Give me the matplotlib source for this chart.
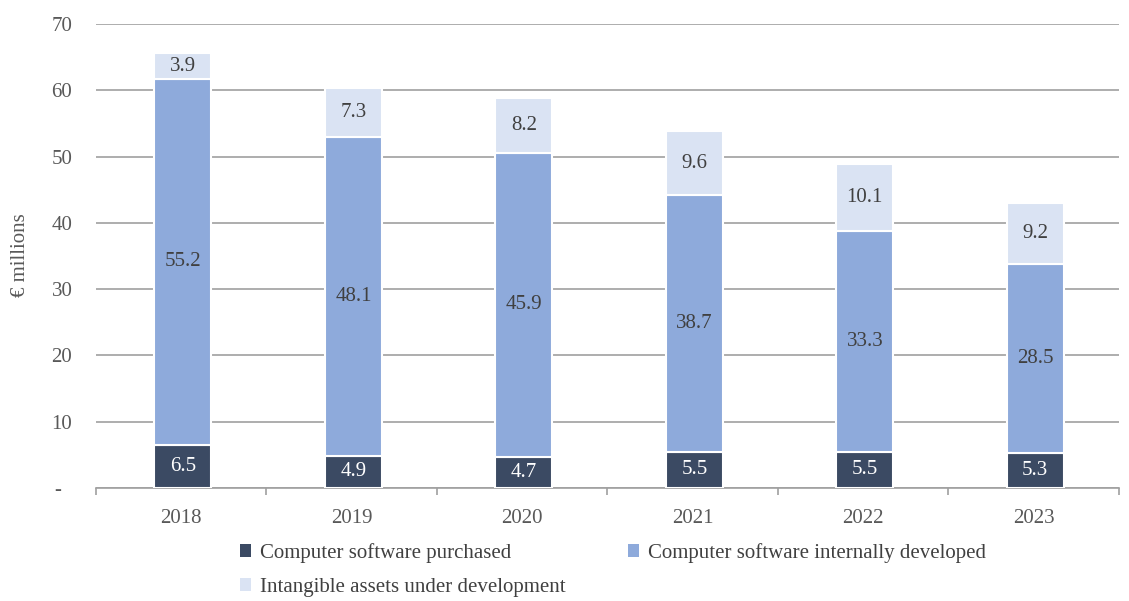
import matplotlib.pyplot as plt
import numpy as np
from matplotlib.patches import Patch

years = ["2018", "2019", "2020", "2021", "2022", "2023"]
purchased = [6.5, 4.9, 4.7, 5.5, 5.5, 5.3]
internal = [55.2, 48.1, 45.9, 38.7, 33.3, 28.5]
under_dev = [3.9, 7.3, 8.2, 9.6, 10.1, 9.2]

series_names = ["Computer software purchased",
                "Computer software internally developed",
                "Intangible assets under development"]
colors = ["#3b4a63", "#8eaadb", "#dae3f3"]
label_colors = ["white", "#404040", "#404040"]

plt.rcParams["font.family"] = ["Liberation Serif", "DejaVu Serif"]
plt.rcParams["font.size"] = 15

fig = plt.figure(figsize=(11.29, 6.01), dpi=100)
ax = fig.add_axes([0.085, 0.188, 0.906, 0.772])

x = np.arange(len(years))
bottom = np.zeros(len(years))
for vals, col, tcol in zip([purchased, internal, under_dev], colors, label_colors):
    vals = np.array(vals)
    ax.bar(x + 0.01, vals, 0.335, bottom=bottom, color=col, edgecolor="white",
           linewidth=1.5, zorder=3)
    for xi, b, v in zip(x, bottom, vals):
        ax.text(xi + 0.01, b + v / 2, f"{v:.1f}", ha="center", va="center",
                color=tcol, fontsize=15, zorder=4)
    bottom += vals

ax.set_xlim(-0.5, len(years) - 0.5)
ax.set_ylim(0, 70)
ax.set_yticks(range(0, 71, 10))
ax.set_yticklabels(["-  "] + [str(v) for v in range(10, 71, 10)], color="#595959")
ax.tick_params(axis="y", length=0, pad=17)
ax.yaxis.grid(True, color="#a0a0a0", linewidth=1.2, zorder=0)
ax.set_axisbelow(True)

ax.set_xticks(x)
ax.set_xticklabels(years, color="#595959")
ax.tick_params(axis="x", which="major", length=0, pad=15)
ax.set_xticks(np.arange(-0.5, len(years)), minor=True)
ax.tick_params(axis="x", which="minor", length=5, width=1.2, color="#a0a0a0",
               direction="out")

for side in ["left", "right", "top"]:
    ax.spines[side].set_visible(False)
ax.spines["bottom"].set_color("#a0a0a0")
ax.spines["bottom"].set_linewidth(1.2)

fig.text(0.018, 0.575, "€ millions", rotation=90, ha="center", va="center",
         color="#595959", fontsize=15)

handles = [Patch(facecolor=c, edgecolor="none") for c in colors]
order = [0, 2, 1]
fig.legend([handles[i] for i in order], [series_names[i] for i in order],
           ncol=2, loc="lower left", bbox_to_anchor=(0.196, -0.024),
           frameon=False, handlelength=0.55, handleheight=0.55,
           handletextpad=0.4, columnspacing=3.0, labelspacing=0.72,
           labelcolor="#404040", fontsize=15)

fig.savefig("out.png", dpi=100)
